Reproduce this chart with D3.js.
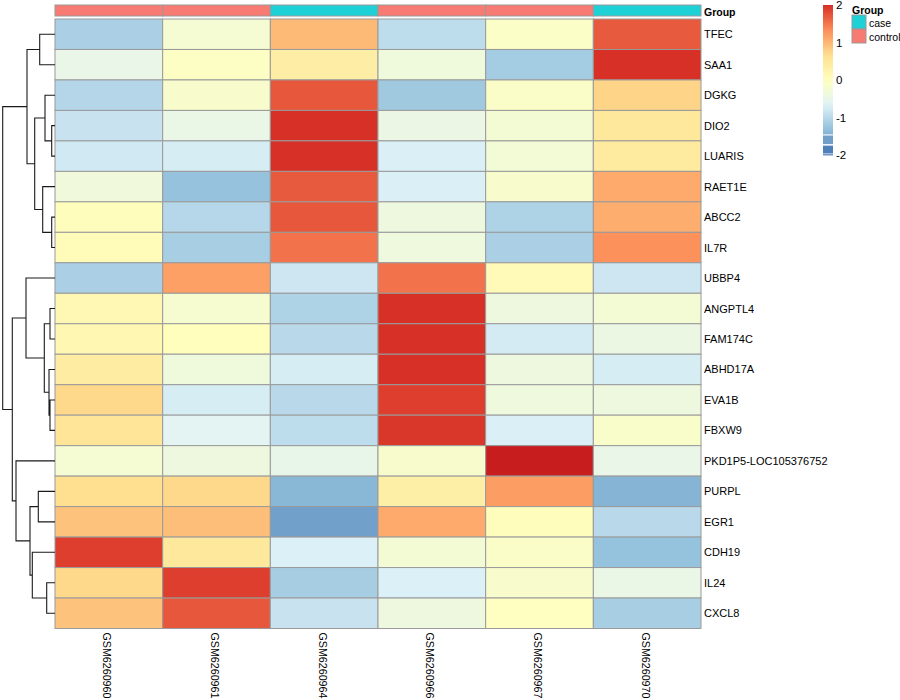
<!DOCTYPE html>
<html>
<head>
<meta charset="utf-8">
<script src="https://cdn.jsdelivr.net/npm/d3@7"></script>
<style>
  body { margin: 0; background: #fff; }
  svg { display: block; font-family: "Liberation Sans", Arial, Helvetica, sans-serif; }
</style>
</head>
<body>
<svg id="chart" width="900" height="700"></svg>
<script>
// ---------------- data ----------------
const samples = ["GSM6260960", "GSM6260961", "GSM6260964", "GSM6260966", "GSM6260967", "GSM6260970"];
const groups  = ["control", "control", "case", "control", "control", "case"];
const groupLevels = ["case", "control"];
const groupColors = ["#1dd1d7", "#f87b73"];

const genes = ["TFEC", "SAA1", "DGKG", "DIO2", "LUARIS", "RAET1E", "ABCC2", "IL7R", "UBBP4",
  "ANGPTL4", "FAM174C", "ABHD17A", "EVA1B", "FBXW9", "PKD1P5-LOC105376752", "PURPL",
  "EGR1", "CDH19", "IL24", "CXCL8"];

// z-scores, one array per gene, in sample order
const values = [
  [-1.11, -0.22,  0.98, -0.95, -0.08,  1.70], // TFEC
  [-0.48, -0.05,  0.37, -0.34, -1.17,  2.00], // SAA1
  [-1.04, -0.15,  1.72, -1.21, -0.10,  0.76], // DGKG
  [-0.87, -0.46,  2.00, -0.43, -0.25,  0.49], // DIO2
  [-0.79, -0.75,  2.00, -0.72, -0.27,  0.44], // LUARIS
  [-0.33, -1.29,  1.70, -0.72, -0.16,  1.10], // RAET1E
  [ 0.05, -1.02,  1.72, -0.38, -1.08,  1.08], // ABCC2
  [ 0.08, -1.14,  1.52, -0.35, -1.11,  1.30], // IL7R
  [-1.11,  1.18, -0.83,  1.52,  0.10, -0.83], // UBBP4
  [ 0.15, -0.20, -1.08,  2.00, -0.38, -0.25], // ANGPTL4
  [ 0.18,  0.03, -1.00,  2.00, -0.77, -0.42], // FAM174C
  [ 0.40, -0.34, -0.75,  2.00, -0.38, -0.75], // ABHD17A
  [ 0.72, -0.75, -1.00,  1.90, -0.36, -0.38], // EVA1B
  [ 0.55, -0.60, -0.95,  1.95, -0.72, -0.12], // FBXW9
  [-0.22, -0.38, -0.50, -0.15,  2.20, -0.48], // PKD1P5-LOC105376752
  [ 0.67,  0.72, -1.40,  0.35,  1.20, -1.43], // PURPL
  [ 0.90,  0.94, -1.61,  1.10,  0.05, -1.00], // EGR1
  [ 1.90,  0.50, -0.70, -0.25, -0.10, -1.30], // CDH19
  [ 0.72,  1.90, -1.15, -0.70, -0.15, -0.46], // IL24
  [ 0.90,  1.72, -0.87, -0.38, -0.02, -1.14]  // CXCL8
];

// row dendrogram (hclust-style merges: negative = leaf index, positive = earlier merge), with heights
const rowMerges = [
  [-4, -5, 0.33], [-7, -8, 0.33], [-13, -14, 0.50], [-10, -11, 0.50], [-12, 3, 0.60],
  [-19, -20, 0.83], [-3, 1, 1.00], [4, 5, 1.07], [-6, 2, 1.23], [-1, -2, 1.53],
  [-16, -17, 1.67], [7, 9, 2.03], [-18, 6, 2.27], [11, 13, 2.50], [10, 12, 2.80],
  [-9, 8, 2.90], [-15, 14, 3.90], [16, 17, 4.27], [15, 18, 5.23]
];

const legendTicks = [2, 1, 0, -1, -2];
const paletteStops = [-2, -1.333, -0.667, 0, 0.667, 1.333, 2, 2.2];
const paletteColors = ["#4575b4", "#91bfdb", "#e0f3f8", "#ffffbf", "#fee090", "#fc8d59", "#d73027", "#c81d1e"];

// ---------------- layout ----------------
const svg = d3.select("#chart");
const hmLeft = 55, hmRight = 701, hmTop = 19, hmBottom = 628.5;
const annTop = 5, annBottom = 16;
const cellStroke = "#9a9a9a";

const x = d3.scaleBand().domain(samples).range([hmLeft, hmRight]);
const y = d3.scaleBand().domain(genes).range([hmTop, hmBottom]);
const color = d3.scaleLinear().domain(paletteStops).range(paletteColors).clamp(true);
const groupColor = d3.scaleOrdinal().domain(groupLevels).range(groupColors);

// heatmap cells
const cells = [];
genes.forEach((g, i) => samples.forEach((s, j) => cells.push({ g, s, v: values[i][j] })));
svg.append("g").selectAll("rect").data(cells).join("rect")
  .attr("x", d => x(d.s)).attr("y", d => y(d.g))
  .attr("width", x.bandwidth()).attr("height", y.bandwidth())
  .attr("fill", d => color(d.v))
  .attr("stroke", cellStroke).attr("stroke-width", 1);

// annotation bar
svg.append("g").selectAll("rect").data(samples).join("rect")
  .attr("x", d => x(d)).attr("y", annTop)
  .attr("width", x.bandwidth()).attr("height", annBottom - annTop)
  .attr("fill", (d, i) => groupColor(groups[i]))
  .attr("stroke", cellStroke).attr("stroke-width", 1);
svg.append("text").attr("x", 704).attr("y", annTop + (annBottom - annTop) / 2 + 1)
  .attr("dominant-baseline", "central").attr("font-size", 10.5).attr("font-weight", "bold")
  .text("Group");

// row labels
svg.append("g").selectAll("text").data(genes).join("text")
  .attr("x", 704).attr("y", d => y(d) + y.bandwidth() / 2)
  .attr("dominant-baseline", "central").attr("font-size", 11)
  .text(d => d);

// column labels
svg.append("g").selectAll("text").data(samples).join("text")
  .attr("transform", d => `translate(${x(d) + x.bandwidth() / 2 - 1.5},${hmBottom + 4}) rotate(90)`)
  .attr("dominant-baseline", "central").attr("font-size", 10.7)
  .text(d => d);

// row dendrogram
const hx = d3.scaleLinear().domain([0, 5.23]).range([hmLeft, 2.7]);
const nodePos = []; // for merges: {y, h}
function child(idx) {
  if (idx < 0) { const g = genes[-idx - 1]; return { y: y(g) + y.bandwidth() / 2, h: 0 }; }
  return nodePos[idx - 1];
}
const dendroPath = d3.path();
rowMerges.forEach(([a, b, h]) => {
  const ca = child(a), cb = child(b);
  dendroPath.moveTo(hx(ca.h), ca.y); dendroPath.lineTo(hx(h), ca.y);
  dendroPath.lineTo(hx(h), cb.y); dendroPath.lineTo(hx(cb.h), cb.y);
  nodePos.push({ y: (ca.y + cb.y) / 2, h });
});
svg.append("path").attr("d", dendroPath.toString())
  .attr("fill", "none").attr("stroke", "#1a1a1a").attr("stroke-width", 1.1);

// color legend
const ly = d3.scaleLinear().domain([-2, 2]).range([155, 5]);
const lgX = 823, lgW = 10;
const defs = svg.append("defs");
const grad = defs.append("linearGradient").attr("id", "lg").attr("x1", 0).attr("y1", 0).attr("x2", 0).attr("y2", 1);
const gTop = 2, gBot = -1.45;
d3.range(0, 1.0001, 0.05).forEach(t => {
  grad.append("stop").attr("offset", t).attr("stop-color", color(gTop + (gBot - gTop) * t));
});
svg.append("rect").attr("x", lgX).attr("y", ly(gTop)).attr("width", lgW)
  .attr("height", ly(gBot) - ly(gTop)).attr("fill", "url(#lg)");
const lgBlocks = [[-1.48, -1.71, -1.62], [-1.75, -1.96, -1.9], [-1.98, -2.01, -2]];
svg.append("g").selectAll("rect").data(lgBlocks).join("rect")
  .attr("x", lgX).attr("y", d => ly(d[0])).attr("width", lgW)
  .attr("height", d => ly(d[1]) - ly(d[0])).attr("fill", d => color(d[2]));
svg.append("g").selectAll("text").data(legendTicks).join("text")
  .attr("x", 836).attr("y", d => ly(d)).attr("dominant-baseline", "central")
  .attr("font-size", 11.5).text(d => d);

// group legend
svg.append("text").attr("x", 852).attr("y", 10).attr("dominant-baseline", "central")
  .attr("font-size", 10.5).attr("font-weight", "bold").text("Group");
const gl = svg.append("g").selectAll("g").data(groupLevels).join("g")
  .attr("transform", (d, i) => `translate(852,${15 + i * 14})`);
gl.append("rect").attr("width", 14).attr("height", 14)
  .attr("fill", d => groupColor(d)).attr("stroke", cellStroke).attr("stroke-width", 1);
gl.append("text").attr("x", 17).attr("y", 8).attr("dominant-baseline", "central")
  .attr("font-size", 10.5).text(d => d);
</script>
</body>
</html>
